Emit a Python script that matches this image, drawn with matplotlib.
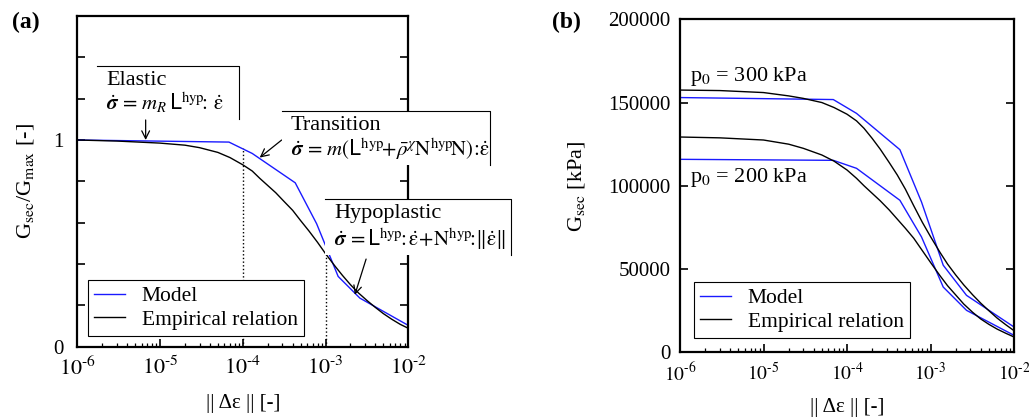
import numpy as np
import matplotlib.pyplot as plt
from matplotlib.ticker import LogLocator, MultipleLocator, FuncFormatter, NullFormatter
from matplotlib.patches import Rectangle
from matplotlib.lines import Line2D

plt.rcParams['font.family'] = ['Liberation Serif', 'DejaVu Serif']
plt.rcParams['mathtext.fontset'] = 'custom'
plt.rcParams['mathtext.rm'] = 'STIXGeneral'
plt.rcParams['mathtext.it'] = 'STIXGeneral:italic'
plt.rcParams['mathtext.bf'] = 'STIXGeneral:bold'
plt.rcParams['mathtext.bfit'] = 'STIXGeneral:italic:bold'
plt.rcParams['mathtext.sf'] = 'DejaVu Sans'
plt.rcParams['mathtext.fallback'] = 'stix'

# (a) normalised secant modulus
strain_model_a = [1e-6, 6.8e-5, 1.3e-4, 4.3e-4, 7.8e-4, 1.42e-3, 2.6e-3, 1e-2]
ratio_model_a = [1.0, 0.99, 0.935, 0.793, 0.595, 0.34, 0.235, 0.103]

strain_emp_a = [1e-6, 3e-6, 1e-5, 2e-5, 3e-5, 5e-5, 7e-5, 1e-4, 1.3e-4, 1.6e-4,
                2e-4, 2.5e-4, 3.2e-4, 4e-4, 5e-4, 6.3e-4, 8e-4, 1e-3, 1.3e-3,
                1.6e-3, 2e-3, 2.5e-3, 3.2e-3, 4e-3, 5e-3, 6.3e-3, 8e-3, 1e-2]
ratio_emp_a = [1.0, 0.995, 0.985, 0.975, 0.963, 0.94, 0.915, 0.88, 0.85, 0.815,
               0.78, 0.745, 0.70, 0.66, 0.61, 0.56, 0.505, 0.45, 0.39,
               0.345, 0.30, 0.26, 0.222, 0.19, 0.16, 0.133, 0.108, 0.089]

# strain limits of the elastic / transition / hypoplastic ranges
boundaries = [1e-4, 1e-3]
boundary_tops = [0.96, 0.48]

# (b) secant modulus in kPa for two mean pressures
strain_model_b = [1e-6, 6.85e-5, 1.3e-4, 4.3e-4, 7.8e-4, 1.42e-3, 2.7e-3, 1e-2]
gsec_model_300 = [153000, 151800, 143500, 121700, 90300, 52300, 34200, 15200]
gsec_model_200 = [115900, 115300, 110500, 91300, 69300, 39200, 25200, 10200]

strain_emp_b = [1e-6, 3e-6, 1e-5, 2e-5, 3e-5, 5e-5, 7e-5, 1e-4, 1.3e-4, 1.6e-4,
                2e-4, 2.5e-4, 3.2e-4, 4e-4, 5e-4, 6.3e-4, 8e-4, 1e-3, 1.3e-3,
                1.6e-3, 2e-3, 2.5e-3, 3.2e-3, 4e-3, 5e-3, 6.3e-3, 8e-3, 1e-2]
gsec_emp_300 = [157500, 157200, 156000, 154000, 152500, 150000, 147000, 143000,
                139000, 134500, 128500, 122000, 114000, 106500, 98000, 88000,
                78000, 69500, 60000, 53000, 46500, 40500, 34500, 29500, 25000,
                20500, 16500, 13000]
gsec_emp_200 = [129300, 128800, 127500, 125000, 122500, 118500, 114800, 109500,
                104500, 100000, 95500, 91000, 85500, 80000, 74500, 68500, 61000,
                54000, 46000, 40000, 34500, 29000, 24000, 20000, 16800, 13900,
                11400, 9200]

W, H = 1029, 417
fig = plt.figure(figsize=(W / 100, H / 100), dpi=100)


def fx(x):
    return x / W


def fy(y):
    return 1 - y / H


def pow10(v, pos):
    return '$10^{\u2010%d}$' % round(-np.log10(v))


ax_a = fig.add_axes([fx(77.3), fy(346.7), 331 / W, 330.7 / H])
ax_b = fig.add_axes([fx(680), fy(352.3), 334 / W, 333 / H])

blue = '#1a1aff'
ax_a.plot(strain_model_a, ratio_model_a, color=blue, lw=1.0, label='Model')
ax_a.plot(strain_emp_a, ratio_emp_a, color='black', lw=1.0, label='Empirical relation')
ax_a.vlines(boundaries, 0, boundary_tops, colors='black', linestyles=':', lw=1.0)

ax_b.plot(strain_model_b, gsec_model_300, color=blue, lw=1.0, label='Model')
ax_b.plot(strain_emp_b, gsec_emp_300, color='black', lw=1.0, label='Empirical relation')
ax_b.plot(strain_model_b, gsec_model_200, color=blue, lw=1.0)
ax_b.plot(strain_emp_b, gsec_emp_200, color='black', lw=1.0)

for ax, xs, ypad in ((ax_a, 16, 10), (ax_b, 14, 7)):
    ax.set_xscale('log')
    ax.set_xlim(1e-6, 1e-2)
    ax.xaxis.set_major_locator(LogLocator(base=10, numticks=10))
    ax.xaxis.set_major_formatter(FuncFormatter(pow10))
    ax.xaxis.set_minor_locator(LogLocator(base=10, subs=range(2, 10), numticks=50))
    ax.xaxis.set_minor_formatter(NullFormatter())
    ax.tick_params(which='both', direction='in', left=True, right=True, top=False)
    ax.tick_params(which='major', length=6, width=1.2)
    ax.tick_params(which='minor', length=3, width=0.9)
    ax.tick_params(axis='x', labelsize=xs, pad=7)
    ax.tick_params(axis='y', labelsize=15, pad=ypad)
    for s in ax.spines.values():
        s.set_linewidth(1.6)
    ax.set_xlabel('|| \u0394\u03b5 || [-]', fontsize=15, labelpad=10)

ax_a.set_ylim(0, 1.6)
ax_a.yaxis.set_major_locator(MultipleLocator(0.2))
ax_a.yaxis.set_major_formatter(FuncFormatter(
    lambda v, p: f'{v:.0f}' if abs(v) < 1e-9 or abs(v - 1) < 1e-9 else ''))
ax_a.set_ylabel('G$_{\\mathrm{sec}}$/G$_{\\mathrm{max}}$ [-]', fontsize=16, labelpad=12)

ax_b.set_ylim(0, 200000)
ax_b.yaxis.set_major_locator(MultipleLocator(50000))
ax_b.set_ylabel('G$_{\\mathrm{sec}}$ [kPa]', fontsize=16, labelpad=15)

leg_kw = dict(loc='lower left', bbox_transform=fig.transFigure, borderaxespad=0,
              fontsize=15.5, handlelength=1.4, handletextpad=0.8, borderpad=0.3,
              labelspacing=0.15, fancybox=False, framealpha=1)
leg = ax_a.legend(bbox_to_anchor=(fx(88), fy(336)), **leg_kw)
leg.get_frame().set_edgecolor('black')
leg.get_frame().set_linewidth(0.8)
leg = ax_b.legend(bbox_to_anchor=(fx(694), fy(338)), **leg_kw)
leg.get_frame().set_edgecolor('black')
leg.get_frame().set_linewidth(0.8)

fig.text(fx(12), fy(12), '(a)', fontsize=17, fontweight='bold', va='top')
fig.text(fx(552), fy(12), '(b)', fontsize=17, fontweight='bold', va='top')

ax_b.text(1.3e-6, 163000, 'p$_0$ = 300 kPa', fontsize=16)
ax_b.text(1.3e-6, 102500, 'p$_0$ = 200 kPa', fontsize=16)

# white label boxes with a top and right border
boxes = [
    (97, 65.7, 239, 119, 'Elastic',
     r'$\dot{\boldsymbol{\sigma}}\,=\,m_R\,\mathsf{L}^{\mathrm{hyp}}\!\!:\,\dot{\mathrm{\varepsilon}}$'),
    (282, 111, 490, 165, 'Transition',
     r'$\dot{\boldsymbol{\sigma}}\,=\,m(\mathsf{L}^{\mathrm{hyp}}\!\!+\!\bar{\rho}^{\chi}\mathrm{N}^{\mathrm{hyp}}\!\mathrm{N})\!:\!\dot{\mathrm{\varepsilon}}$'),
    (325, 199, 511, 255, 'Hypoplastic',
     r'$\dot{\boldsymbol{\sigma}}\,=\mathsf{L}^{\mathrm{hyp}}\!\!:\dot{\mathrm{\varepsilon}}\!+\!\mathrm{N}^{\mathrm{hyp}}\!\!:\!\Vert\dot{\mathrm{\varepsilon}}\Vert$'),
]
for x0, y0, x1, y1, title, formula in boxes:
    fig.add_artist(Rectangle((fx(x0), fy(y1)), fx(x1) - fx(x0), fy(y0) - fy(y1),
                             transform=fig.transFigure, facecolor='white',
                             edgecolor='none', zorder=5))
    fig.add_artist(Line2D([fx(x0), fx(x1), fx(x1)], [fy(y0), fy(y0), fy(y1)],
                          transform=fig.transFigure, color='black', lw=0.8, zorder=6))
    fig.text(fx(x0 + 9), fy(y0 + 5), title, fontsize=16, va='top', zorder=7)
    fig.text(fx(x0 + 9), fy(y1 - 9), formula, fontsize=15, va='baseline', zorder=7)

arrow = dict(arrowstyle='->', color='black', lw=0.9, shrinkA=0, shrinkB=0,
             mutation_scale=14)
ax_a.annotate('', xy=(6.7e-6, 1.0), xytext=(6.7e-6, 1.097), arrowprops=arrow)
ax_a.annotate('', xy=(1.6e-4, 0.915), xytext=(2.95e-4, 1.0), arrowprops=arrow)
ax_a.annotate('', xy=(2.26e-3, 0.251), xytext=(3.09e-3, 0.424), arrowprops=arrow)

fig.savefig('out.png', dpi=100)
